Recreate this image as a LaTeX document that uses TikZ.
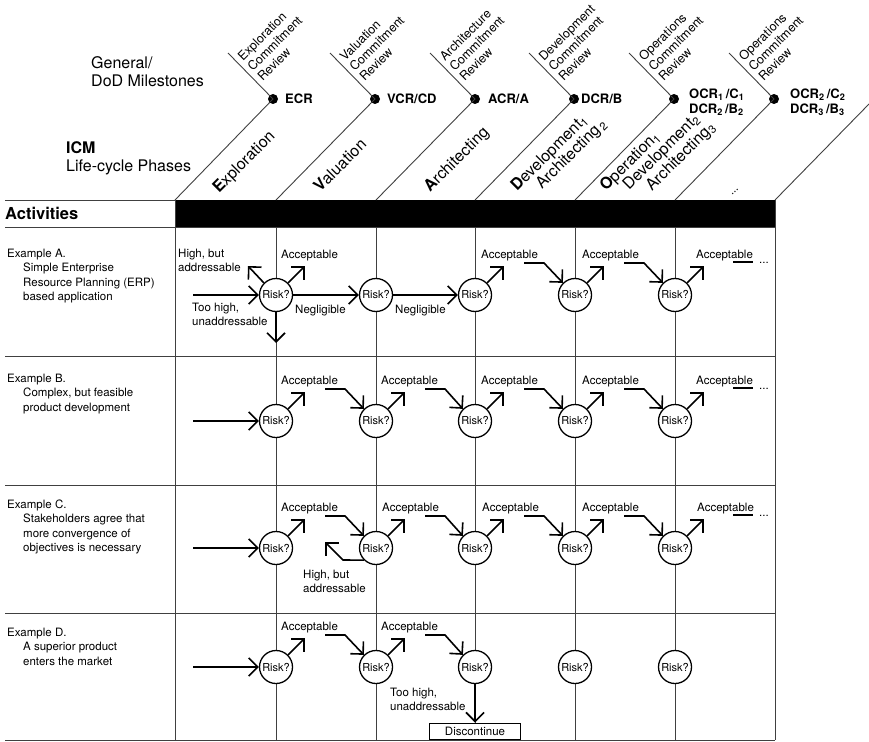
\documentclass[tikz,border=0pt]{standalone}
\usepackage{fontspec}
\setmainfont{TeX Gyre Heros}
\usepackage{tikz}
\usetikzlibrary{arrows.meta, positioning, calc}

\begin{document}
\begin{tikzpicture}[x=1pt, y=-1pt,
        griglia/.style={draw=black!75, line width=0.9pt},
        rischio/.style={circle, draw, line width=1.3pt, fill=white, minimum size=33pt, inner sep=0pt, font=\fontsize{11}{13}\selectfont},
        freccia/.style={line width=1.6pt, -{Straight Barb[length=9pt, width=18pt]}},
        piccolo/.style={font=\fontsize{11.5}{14.5}\selectfont, align=left, inner sep=0pt, anchor=north west},
        pietra/.style={circle, fill, minimum size=10pt, inner sep=0pt},
        sigla/.style={font=\fontsize{13}{15}\selectfont\bfseries, align=left, inner sep=0pt, anchor=west},
        revisione/.style={font=\fontsize{12.5}{14}\selectfont, align=left, inner sep=0pt, rotate=45, anchor=south west},
        fase/.style={font=\fontsize{16}{18}\selectfont, inner sep=0pt, rotate=45, anchor=base west},
        grande/.style={font=\fontsize{16}{18.5}\selectfont, align=left, inner sep=0pt, anchor=north west}]
        \useasboundingbox (0,0) rectangle (869,741);

        % Griglia
        \fill (175,200) rectangle (775,227);
        \draw[griglia] (5,200) -- (175,200);
        \draw[griglia] (5,227) -- (775,227);
        \draw[griglia] (5,356) -- (775,356);
        \draw[griglia] (5,485) -- (775,485);
        \draw[griglia] (5,613) -- (775,613);
        \draw[griglia] (5,740) -- (775,740);
        \draw[griglia] (175,200) -- (175,740);
        \draw[griglia] (276,227) -- (276,740);
        \draw[griglia] (376,227) -- (376,740);
        \draw[griglia] (475,227) -- (475,740);
        \draw[griglia] (575,227) -- (575,740);
        \draw[griglia] (675,227) -- (675,740);
        \draw[griglia] (775,200) -- (775,740);

        % Milestone
        \node[pietra] (m1) at (273,99) {};
        \node[pietra] (m2) at (375,99) {};
        \node[pietra] (m3) at (475,99) {};
        \node[pietra] (m4) at (574,99) {};
        \node[pietra] (m5) at (674,99) {};
        \node[pietra] (m6) at (774,99) {};
        \draw[griglia] (175,200) -- (m1.center) -- ++(-45,-46);
        \draw[griglia] (276,200) -- (m2.center) -- ++(-45,-46);
        \draw[griglia] (376,200) -- (m3.center) -- ++(-45,-46);
        \draw[griglia] (475,200) -- (m4.center) -- ++(-45,-46);
        \draw[griglia] (575,200) -- (m5.center) -- ++(-45,-46);
        \draw[griglia] (675,200) -- (m6.center) -- ++(-45,-46);
        \draw[griglia] (775,200) -- (869,104);

        \node[revisione] (m1r) at ($(m1)+(-10,-17)$) {Exploration\\Commitment\\Review};
        \node[revisione] (m2r) at ($(m2)+(-10,-17)$) {Valuation\\Commitment\\Review};
        \node[revisione] (m3r) at ($(m3)+(-10,-17)$) {Architecture\\Commitment\\Review};
        \node[revisione] (m4r) at ($(m4)+(-10,-17)$) {Development\\Commitment\\Review};
        \node[revisione] (m5r) at ($(m5)+(-10,-17)$) {Operations\\Commitment\\Review};
        \node[revisione] (m6r) at ($(m6)+(-10,-17)$) {Operations\\Commitment\\Review};

        \node[sigla] (m1l) at (285,99) {ECR};
        \node[sigla] (m2l) at (387,99) {VCR/CD};
        \node[sigla] (m3l) at (488,99) {ACR/A};
        \node[sigla] (m4l) at (581,99) {DCR/B};
        \node[sigla] (m5l) at (689,102) {OCR\textsubscript{1}\,/C\textsubscript{1}\\DCR\textsubscript{2}\,/B\textsubscript{2}};
        \node[sigla] (m6l) at (790,102) {OCR\textsubscript{2}\,/C\textsubscript{2}\\DCR\textsubscript{3}\,/B\textsubscript{3}};

        % Fasi
        \node[fase] (f1) at (219,194) {\textbf{E}xploration};
        \node[fase] (f2) at (320,193) {\textbf{V}aluation};
        \node[fase] (f3) at (430,193) {\textbf{A}rchitecting};
        \node[fase] (f4) at (517,192) {\textbf{D}evelopment\textsubscript{1}};
        \node[fase] (f4b) at (542,190) {Architecting\textsubscript{\,2}};
        \node[fase] (f5) at (606,192) {\textbf{O}peration\textsubscript{1}};
        \node[fase] (f5b) at (629,191) {Development\textsubscript{2}};
        \node[fase] (f5c) at (652,192) {Architecting\textsubscript{3}};
        \node[fase, font=\fontsize{11.5}{13}\selectfont] (f6) at (732,196) {...};

        % Titoli
        \node[grande] (gen) at (91,56) {General/\\DoD Milestones};
        \node[grande] (icm) at (66,141) {\textbf{ICM}\\Life-cycle Phases};
        \node[grande, anchor=west, font=\fontsize{16.5}{19}\selectfont\bfseries] (att) at (5,213.5) {Activities};

        % Esempio A
        \node[piccolo] (ea) at (7,248.6) {Example A.\\\hspace*{16pt}Simple Enterprise\\\hspace*{16pt}Resource Planning (ERP)\\\hspace*{16pt}based application};
        \node[rischio] (a1) at (276,295) {Risk?};
        \node[rischio] (a2) at (376,295) {Risk?};
        \node[rischio] (a3) at (475,295) {Risk?};
        \node[rischio] (a4) at (575,295) {Risk?};
        \node[rischio] (a5) at (675,295) {Risk?};
        \coordinate (a0) at (193,295);
        \coordinate (a1alto) at ($(a1)+(-28,-29)$);
        \coordinate (a1giu) at ($(a1)+(0,48)$);
        \coordinate (a1ok) at ($(a1)+(29,-29)$);
        \coordinate (a3ok) at ($(a3)+(29,-29)$);
        \coordinate (a4ok) at ($(a4)+(29,-29)$);
        \coordinate (a5ok) at ($(a5)+(29,-29)$);
        \coordinate (a3s) at ($(a3)+(49,-32)$);
        \coordinate (a4s) at ($(a4)+(49,-32)$);
        \coordinate (a5s) at ($(a5)+(58,-33)$);
        \coordinate (a5e) at ($(a5)+(78,-33)$);
        \draw[freccia] (a0) -- (a1);
        \draw[freccia] (a1) -- (a2);
        \draw[freccia] (a2) -- (a3);
        \draw[freccia] (a1.135) -- (a1alto);
        \draw[freccia] (a1.45) -- (a1ok);
        \draw[freccia] (a1) -- (a1giu);
        \draw[freccia] (a3.45) -- (a3ok);
        \draw[freccia] (a4.45) -- (a4ok);
        \draw[freccia] (a5.45) -- (a5ok);
        \draw[freccia] (a3s) -- ++(20,0) -- (a4.135);
        \draw[freccia] (a4s) -- ++(20,0) -- (a5.135);
        \draw[line width=1.6pt] (a5s) -- (a5e);
        \node[piccolo, anchor=base west] (a5p) at ($(a5e)+(6,1)$) {...};
        \node[piccolo] (a1altol) at (178,248.6) {High, but\\addressable};
        \node[piccolo] (a1okl) at (281,249.6) {Acceptable};
        \node[piccolo] (a1giul) at (192,302.6) {Too high,\\unaddressable};
        \node[piccolo] (a1negl) at (295,304.6) {Negligible};
        \node[piccolo] (a2negl) at (395,304.6) {Negligible};
        \node[piccolo] (a3okl) at (481,249.6) {Acceptable};
        \node[piccolo] (a4okl) at (582,249.6) {Acceptable};
        \node[piccolo] (a5okl) at (696,249.6) {Acceptable};

        % Esempio B
        \node[piccolo] (eb) at (7,373.6) {Example B.\\\hspace*{16pt}Complex, but feasible\\\hspace*{16pt}product development};
        \node[rischio] (b1) at (276,421) {Risk?};
        \node[rischio] (b2) at (376,421) {Risk?};
        \node[rischio] (b3) at (475,421) {Risk?};
        \node[rischio] (b4) at (575,421) {Risk?};
        \node[rischio] (b5) at (675,421) {Risk?};
        \coordinate (b0) at (193,421);
        \coordinate (b1ok) at ($(b1)+(29,-29)$);
        \coordinate (b2ok) at ($(b2)+(29,-29)$);
        \coordinate (b3ok) at ($(b3)+(29,-29)$);
        \coordinate (b4ok) at ($(b4)+(29,-29)$);
        \coordinate (b5ok) at ($(b5)+(29,-29)$);
        \coordinate (b1s) at ($(b1)+(49,-32)$);
        \coordinate (b2s) at ($(b2)+(49,-32)$);
        \coordinate (b3s) at ($(b3)+(49,-32)$);
        \coordinate (b4s) at ($(b4)+(49,-32)$);
        \coordinate (b5s) at ($(b5)+(58,-33)$);
        \coordinate (b5e) at ($(b5)+(78,-33)$);
        \draw[freccia] (b0) -- (b1);
        \draw[freccia] (b1.45) -- (b1ok);
        \draw[freccia] (b2.45) -- (b2ok);
        \draw[freccia] (b3.45) -- (b3ok);
        \draw[freccia] (b4.45) -- (b4ok);
        \draw[freccia] (b5.45) -- (b5ok);
        \draw[freccia] (b1s) -- ++(20,0) -- (b2.135);
        \draw[freccia] (b2s) -- ++(20,0) -- (b3.135);
        \draw[freccia] (b3s) -- ++(20,0) -- (b4.135);
        \draw[freccia] (b4s) -- ++(20,0) -- (b5.135);
        \draw[line width=1.6pt] (b5s) -- (b5e);
        \node[piccolo, anchor=base west] (b5p) at ($(b5e)+(6,1)$) {...};
        \node[piccolo] (b1okl) at (281,375.6) {Acceptable};
        \node[piccolo] (b2okl) at (381,375.6) {Acceptable};
        \node[piccolo] (b3okl) at (481,375.6) {Acceptable};
        \node[piccolo] (b4okl) at (582,375.6) {Acceptable};
        \node[piccolo] (b5okl) at (696,375.6) {Acceptable};

        % Esempio C
        \node[piccolo] (ec) at (7,499.6) {Example C.\\\hspace*{16pt}Stakeholders agree that\\\hspace*{16pt}more convergence of\\\hspace*{16pt}objectives is necessary};
        \node[rischio] (c1) at (276,548) {Risk?};
        \node[rischio] (c2) at (376,548) {Risk?};
        \node[rischio] (c3) at (475,548) {Risk?};
        \node[rischio] (c4) at (575,548) {Risk?};
        \node[rischio] (c5) at (675,548) {Risk?};
        \coordinate (c0) at (193,548);
        \coordinate (c1ok) at ($(c1)+(29,-29)$);
        \coordinate (c2ok) at ($(c2)+(29,-29)$);
        \coordinate (c3ok) at ($(c3)+(29,-29)$);
        \coordinate (c4ok) at ($(c4)+(29,-29)$);
        \coordinate (c5ok) at ($(c5)+(29,-29)$);
        \coordinate (c1s) at ($(c1)+(49,-32)$);
        \coordinate (c2s) at ($(c2)+(49,-32)$);
        \coordinate (c3s) at ($(c3)+(49,-32)$);
        \coordinate (c4s) at ($(c4)+(49,-32)$);
        \coordinate (c5s) at ($(c5)+(58,-33)$);
        \coordinate (c5e) at ($(c5)+(78,-33)$);
        \coordinate (c2a) at ($(c2)+(-33,12)$);
        \coordinate (c2alto) at ($(c2)+(-51,-6)$);
        \draw[freccia] (c0) -- (c1);
        \draw[freccia] (c1.45) -- (c1ok);
        \draw[freccia] (c2.45) -- (c2ok);
        \draw[freccia] (c3.45) -- (c3ok);
        \draw[freccia] (c4.45) -- (c4ok);
        \draw[freccia] (c5.45) -- (c5ok);
        \draw[freccia] (c1s) -- ++(20,0) -- (c2.135);
        \draw[freccia] (c2s) -- ++(20,0) -- (c3.135);
        \draw[freccia] (c3s) -- ++(20,0) -- (c4.135);
        \draw[freccia] (c4s) -- ++(20,0) -- (c5.135);
        \draw[freccia] (c2.225) -- (c2a) -- (c2alto);
        \draw[line width=1.6pt] (c5s) -- (c5e);
        \node[piccolo, anchor=base west] (c5p) at ($(c5e)+(6,1)$) {...};
        \node[piccolo] (c1okl) at (281,502.6) {Acceptable};
        \node[piccolo] (c2okl) at (382,502.6) {Acceptable};
        \node[piccolo] (c3okl) at (482,502.6) {Acceptable};
        \node[piccolo] (c4okl) at (582,502.6) {Acceptable};
        \node[piccolo] (c5okl) at (697,502.6) {Acceptable};
        \node[piccolo] (c2altol) at (303,569.6) {High, but\\addressable};

        % Esempio D
        \node[piccolo] (ed) at (7,627.6) {Example D.\\\hspace*{16pt}A superior product\\\hspace*{16pt}enters the market};
        \node[rischio] (d1) at (276,667) {Risk?};
        \node[rischio] (d2) at (376,667) {Risk?};
        \node[rischio] (d3) at (475,667) {Risk?};
        \node[rischio] (d4) at (575,667) {Risk?};
        \node[rischio] (d5) at (675,667) {Risk?};
        \node[draw, fill=white, line width=1pt, minimum width=91pt, minimum height=16pt, inner sep=0pt, font=\fontsize{11.5}{13}\selectfont] (stop) at (475,731) {Discontinue};
        \coordinate (d0) at (193,667);
        \coordinate (d1ok) at ($(d1)+(29,-29)$);
        \coordinate (d2ok) at ($(d2)+(29,-29)$);
        \coordinate (d1s) at ($(d1)+(49,-32)$);
        \coordinate (d2s) at ($(d2)+(49,-32)$);
        \draw[freccia] (d0) -- (d1);
        \draw[freccia] (d1.45) -- (d1ok);
        \draw[freccia] (d2.45) -- (d2ok);
        \draw[freccia] (d1s) -- ++(20,0) -- (d2.135);
        \draw[freccia] (d2s) -- ++(20,0) -- (d3.135);
        \draw[freccia] (d3) -- (stop);
        \node[piccolo] (d1okl) at (281,621.6) {Acceptable};
        \node[piccolo] (d2okl) at (381,621.6) {Acceptable};
        \node[piccolo] (d3giul) at (390,687.6) {Too high,\\unaddressable};
    \end{tikzpicture}
\end{document}
